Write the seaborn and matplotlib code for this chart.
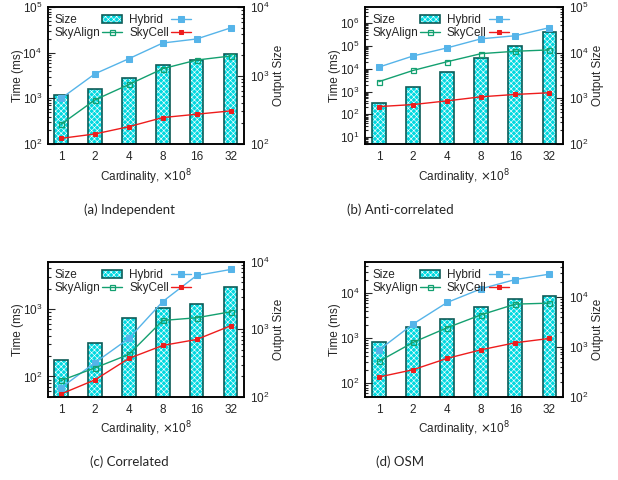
import numpy as np
import matplotlib.pyplot as plt
import seaborn as sns
from matplotlib.patches import Patch
from matplotlib.legend_handler import HandlerTuple
from matplotlib.ticker import LogLocator, NullFormatter

sns.set_style("white")
plt.rcParams["font.family"] = ["Liberation Sans", "DejaVu Sans"]
plt.rcParams["hatch.linewidth"] = 0.45

cardinality = ["1", "2", "4", "8", "16", "32"]

# (a) Independent
indep_size = [523, 641, 919, 1410, 1707, 2090]
indep_hybrid = [1000, 3470, 7430, 16400, 20100, 35100]
indep_skyalign = [271, 930, 2020, 4480, 6940, 8500]
indep_skycell = [133, 166, 240, 380, 450, 532]

# (b) Anti-correlated
anti_size = [812, 1800, 3780, 7550, 13900, 28200]
anti_hybrid = [11800, 36200, 82000, 206000, 280000, 632000]
anti_skyalign = [2720, 8380, 20300, 46000, 58400, 66900]
anti_skycell = [219, 268, 390, 588, 746, 885]

# (c) Correlated
corr_size = [345, 617, 1480, 2080, 2410, 4210]
corr_hybrid = [68, 160, 366, 1290, 3140, 3850]
corr_skyalign = [87, 134, 212, 676, 741, 908]
corr_skycell = [55, 89, 185, 288, 353, 563]

# (d) OSM
osm_size = [1220, 2440, 3520, 6210, 8850, 10300]
osm_hybrid = [545, 2060, 6240, 12600, 20200, 26600]
osm_skyalign = [305, 806, 1710, 3320, 5730, 6030]
osm_skycell = [137, 199, 356, 554, 793, 989]

BAR_FILL = "#00d8e0"
BAR_EDGE = "#0d5c58"
BAR_HATCH = "xxxxxx"
HYBRID = "#56b4e9"
SKYALIGN = "#13a070"
SKYCELL = "#ee1c1c"

panels = [
    dict(caption="(a) Independent", rect=[0.077, 0.700, 0.318, 0.285],
         size=indep_size, hybrid=indep_hybrid, skyalign=indep_skyalign,
         skycell=indep_skycell, tlim=(1e2, 1e5), slim=(1e2, 1e4), cap_xy=(0.21, 0.5625)),
    dict(caption="(b) Anti-correlated", rect=[0.591, 0.700, 0.320, 0.285],
         size=anti_size, hybrid=anti_hybrid, skyalign=anti_skyalign,
         skycell=anti_skycell, tlim=(5, 5e6), slim=(1e2, 1e5), cap_xy=(0.647, 0.5625)),
    dict(caption="(c) Correlated", rect=[0.077, 0.1735, 0.318, 0.281],
         size=corr_size, hybrid=corr_hybrid, skyalign=corr_skyalign,
         skycell=corr_skycell, tlim=(50, 5e3), slim=(1e2, 1e4), cap_xy=(0.21, 0.038)),
    dict(caption="(d) OSM", rect=[0.591, 0.1735, 0.320, 0.281],
         size=osm_size, hybrid=osm_hybrid, skyalign=osm_skyalign,
         skycell=osm_skycell, tlim=(50, 5e4), slim=(1e2, 5e4), cap_xy=(0.647, 0.038)),
]

fig = plt.figure(figsize=(6.18, 4.8), dpi=100)
pos = np.arange(len(cardinality))
legends = []

for p in panels:
    ax = fig.add_axes(p["rect"])
    ax2 = ax.twinx()

    # bars (output size) on the right axis: hatched fill, then dark outline
    sns.barplot(x=cardinality, y=p["size"], order=cardinality, ax=ax2,
                color=BAR_FILL, saturation=1, width=0.4, errorbar=None,
                edgecolor="white", linewidth=0, hatch=BAR_HATCH)
    sns.barplot(x=cardinality, y=p["size"], order=cardinality, ax=ax2,
                color=BAR_EDGE, saturation=1, width=0.4, errorbar=None,
                fill=False, linewidth=1.2)
    ax2.set_yscale("log")
    ax2.set_ylim(*p["slim"])

    # running times on the left axis
    sns.lineplot(x=pos, y=p["hybrid"], ax=ax, color=HYBRID, lw=1, marker="s",
                 markersize=4.5, markerfacecolor=HYBRID, markeredgecolor=HYBRID,
                 label="Hybrid", legend=False)
    sns.lineplot(x=pos, y=p["skyalign"], ax=ax, color=SKYALIGN, lw=1, marker="s",
                 markersize=3.6, markerfacecolor="none", markeredgecolor=SKYALIGN,
                 markeredgewidth=0.9, label="SkyAlign", legend=False)
    sns.lineplot(x=pos, y=p["skycell"], ax=ax, color=SKYCELL, lw=1, marker="s",
                 markersize=3.2, markerfacecolor=SKYCELL, markeredgecolor=SKYCELL,
                 label="SkyCell", legend=False)
    ax.set_yscale("log")
    ax.set_ylim(*p["tlim"])

    ax.set_zorder(ax2.get_zorder() + 1)
    ax.patch.set_visible(False)

    ax.set_xlim(-0.4, len(cardinality) - 0.6)
    ax.set_xticks(pos, cardinality)
    ax.tick_params(axis="x", length=0, pad=5, labelsize=8.5)
    ax.set_xlabel(r"Cardinality, $\times$10$^{8}$", fontsize=8.5, labelpad=3)
    ax.set_ylabel("Time (ms)", fontsize=8.5, labelpad=-1)
    ax2.set_ylabel("Output Size", fontsize=8.5, labelpad=3)
    ax2.set_xlabel("")

    for a in (ax, ax2):
        a.yaxis.set_major_locator(LogLocator(base=10, numticks=12))
        a.yaxis.set_minor_locator(LogLocator(base=10, subs=np.arange(2, 10), numticks=12))
        a.yaxis.set_minor_formatter(NullFormatter())
        a.tick_params(axis="y", which="both", direction="in", labelsize=8.5, pad=4, width=0.8)
        a.tick_params(axis="y", which="major", length=5)
        a.tick_params(axis="y", which="minor", length=2.5)
        for s in a.spines.values():
            s.set_color("black")
            s.set_linewidth(1.1)

    lines, labels = ax.get_legend_handles_labels()
    size_handle = (Patch(facecolor=BAR_FILL, edgecolor="white", lw=0, hatch=BAR_HATCH),
                   Patch(facecolor="none", edgecolor=BAR_EDGE, lw=1.2))
    handles = [size_handle, lines[1], lines[0], lines[2]]
    names = ["Size", "SkyAlign", "Hybrid", "SkyCell"]
    leg = ax.legend(handles, names, loc="upper left", bbox_to_anchor=(0.0, 1.0), ncol=2,
                    frameon=False, markerfirst=False, fontsize=8.5, handlelength=1.7,
                    handleheight=0.6, handletextpad=0.15, columnspacing=0.6,
                    labelspacing=0.05, borderaxespad=0.5, borderpad=0.1,
                    handler_map={tuple: HandlerTuple(ndivide=1, pad=0)})
    legends.append(leg)

    fig.text(p["cap_xy"][0], p["cap_xy"][1], p["caption"], ha="center", va="center",
             fontsize=9.5, family=["Lato", "DejaVu Sans"])

# gnuplot-style key: labels flush left, samples flush right inside each column
fig.canvas.draw()
renderer = fig.canvas.get_renderer()
for leg in legends:
    for col in leg._legend_handle_box.get_children():
        rows = col.get_children()
        w = max(r.get_bbox(renderer).width for r in rows)
        for r in rows:
            r.mode = "expand"
            r.width = w

fig.savefig("out.png", dpi=100)
